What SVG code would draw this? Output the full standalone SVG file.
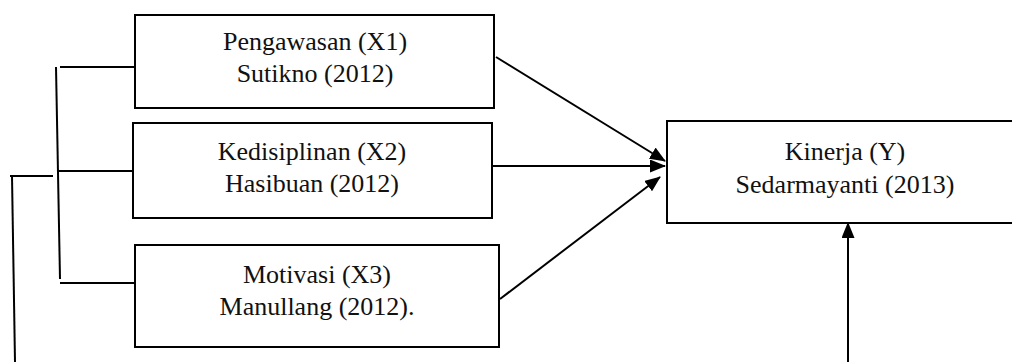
<svg xmlns="http://www.w3.org/2000/svg" width="1012" height="362" viewBox="0 0 1012 362">
<style>
.box{fill:#fff;stroke:#000;stroke-width:2}
.t{font-size:26px;fill:#111;text-anchor:middle}
.ln{stroke:#000;stroke-width:2;fill:none}
</style>
<defs>
<marker id="ah" markerWidth="16" markerHeight="13" refX="15" refY="6.5" orient="auto" markerUnits="userSpaceOnUse">
<path d="M0,0 L16,6.5 L0,13 Z" fill="#000"/>
</marker>
</defs>
<rect width="1012" height="362" fill="#fff"/>
<g id="connectors">
<line class="ln" x1="56" y1="67" x2="60" y2="279"/>
<line class="ln" x1="60" y1="67" x2="135" y2="67"/>
<line class="ln" x1="58" y1="171" x2="133" y2="171"/>
<line class="ln" x1="60" y1="283" x2="135" y2="283"/>
<line class="ln" x1="10" y1="176" x2="53" y2="176"/>
<line class="ln" x1="12" y1="176" x2="15" y2="362"/>
<line class="ln" x1="496" y1="57" x2="665" y2="161" marker-end="url(#ah)"/>
<line class="ln" x1="488" y1="166" x2="665" y2="166" marker-end="url(#ah)"/>
<line class="ln" x1="500" y1="299" x2="660" y2="177" marker-end="url(#ah)"/>
<line class="ln" x1="848" y1="362" x2="848" y2="223" marker-end="url(#ah)"/>
</g>
<g id="x1" font-family="Liberation Serif">
<rect class="box" x="135" y="15" width="359" height="93"/>
<text class="t" x="315" y="50">Pengawasan (X1)</text>
<text class="t" x="315" y="82">Sutikno (2012)</text>
</g>
<g id="x2" font-family="Liberation Serif">
<rect class="box" x="133" y="123" width="359" height="95"/>
<text class="t" x="312" y="160">Kedisiplinan (X2)</text>
<text class="t" x="312" y="192">Hasibuan (2012)</text>
</g>
<g id="x3" font-family="Liberation Serif">
<rect class="box" x="135" y="245" width="364" height="102"/>
<text class="t" x="317" y="283">Motivasi (X3)</text>
<text class="t" x="317" y="315">Manullang (2012).</text>
</g>
<g id="y" font-family="Liberation Serif">
<rect class="box" x="667" y="121" width="356" height="102"/>
<text class="t" x="845" y="160">Kinerja (Y)</text>
<text class="t" x="845" y="193">Sedarmayanti (2013)</text>
</g>
</svg>
